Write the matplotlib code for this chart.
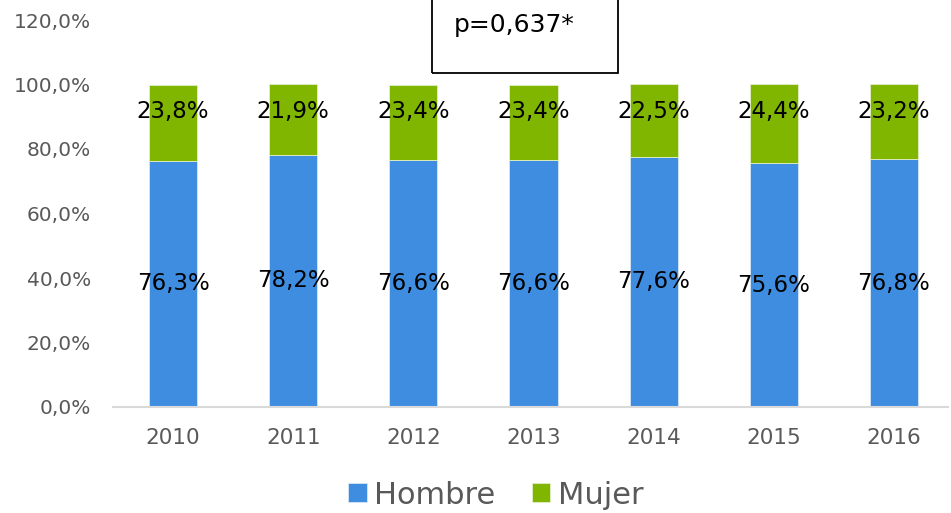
import matplotlib
matplotlib.use("Agg")
import matplotlib.pyplot as plt
from matplotlib.patches import Rectangle
from matplotlib.ticker import FuncFormatter

years = ["2010", "2011", "2012", "2013", "2014", "2015", "2016"]
hombre = [76.3, 78.2, 76.6, 76.6, 77.6, 75.6, 76.8]
mujer = [23.8, 21.9, 23.4, 23.4, 22.5, 24.4, 23.2]
p_text = "p=0,637*"

blue = "#3F8DE1"
green = "#80B600"
grey = "#595959"

fig = plt.figure(figsize=(9.51, 5.13), dpi=100)
ax = fig.add_axes([113/951, 1-407/513, 835/951, 387/513])

x = range(len(years))
ax.bar(x, hombre, width=0.4, color=blue, edgecolor="#D6E6F8", linewidth=0.6, label="Hombre")
ax.bar(x, [100-h for h in hombre], width=0.4, bottom=hombre, color=green,
       edgecolor="#E3EFC8", linewidth=0.6, label="Mujer")

for i in x:
    ax.text(i, hombre[i]/2, f"{hombre[i]:.1f}%".replace(".", ","), ha="center", va="center",
            fontsize=16.5, color="black")
    ax.text(i, 100-8.4, f"{mujer[i]:.1f}%".replace(".", ","), ha="center", va="center",
            fontsize=16.5, color="black")

ax.set_ylim(0, 120)
ax.set_xlim(-0.5, 6.45)
ax.set_yticks(range(0, 121, 20))
ax.yaxis.set_major_formatter(FuncFormatter(lambda v, _: f"{v:.1f}%".replace(".", ",")))
ax.set_xticks(list(x))
ax.set_xticklabels(years)
ax.tick_params(axis="y", length=0, pad=16, labelsize=14.5, labelcolor=grey)
ax.tick_params(axis="x", length=0, pad=15, labelsize=15.5, labelcolor=grey)
for s in ["top", "right", "left"]:
    ax.spines[s].set_visible(False)
ax.spines["bottom"].set_color("#D9D9D9")
ax.spines["bottom"].set_linewidth(1.5)

# p-value box
fig.patches.append(Rectangle((432/951, 1-73/513), 186/951, 0.2, transform=fig.transFigure,
                             fill=False, edgecolor="black", linewidth=1.3, clip_on=False))
fig.text(514/951, 1-25/513, p_text, ha="center", va="center", fontsize=18, color="black")

leg = fig.legend(loc="center", bbox_to_anchor=(496/951, 1-495/513), ncol=2, frameon=False,
                 fontsize=22, handlelength=0.6, handleheight=0.6, handletextpad=0.25,
                 columnspacing=1.2)
for t in leg.get_texts():
    t.set_color(grey)

fig.savefig("out.png", dpi=100)
